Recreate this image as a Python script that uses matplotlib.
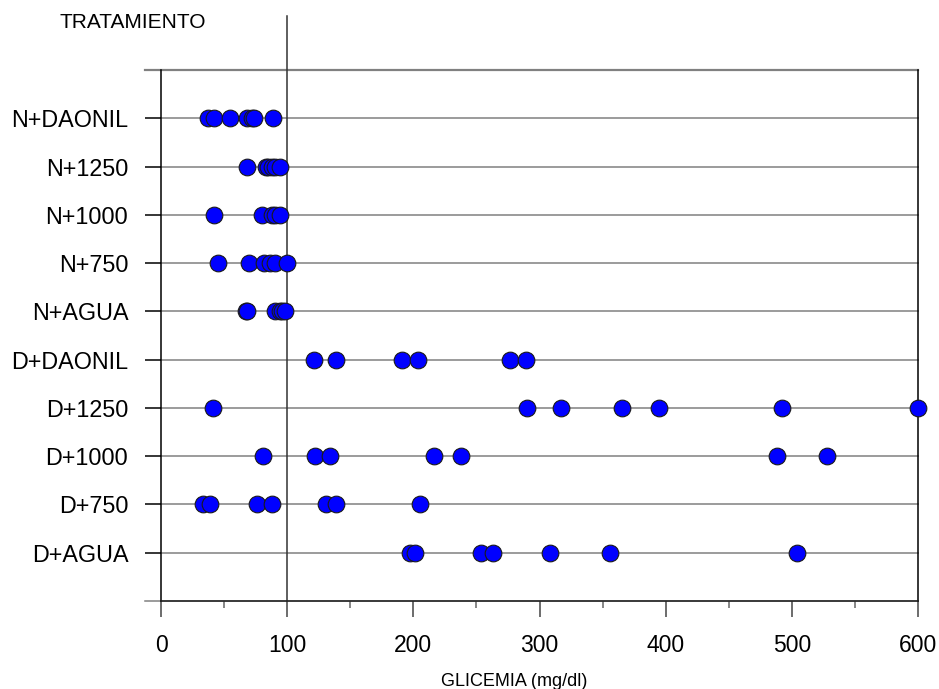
import matplotlib
matplotlib.use('Agg')
import matplotlib.pyplot as plt
from matplotlib.ticker import MultipleLocator

plt.rcParams['font.family'] = ['Liberation Sans', 'DejaVu Sans']

TREATMENTS = ['D+AGUA', 'D+750', 'D+1000', 'D+1250', 'D+DAONIL',
              'N+AGUA', 'N+750', 'N+1000', 'N+1250', 'N+DAONIL']

d_agua = [197, 201, 254, 263, 308, 356, 504]
d_750 = [33, 39, 76, 88, 131, 139, 205]
d_1000 = [81, 122, 134, 216, 238, 488, 528]
d_1250 = [41, 290, 317, 365, 395, 492, 600]
d_daonil = [121, 139, 191, 204, 277, 289]
n_agua = [67, 68, 90, 94, 96, 98]
n_750 = [45, 70, 82, 86, 90, 100]
n_1000 = [42, 80, 88, 90, 94]
n_1250 = [68, 83, 85, 88, 90, 94]
n_daonil = [37, 42, 55, 68, 72, 74, 89]

SERIES = [d_agua, d_750, d_1000, d_1250, d_daonil,
          n_agua, n_750, n_1000, n_1250, n_daonil]

fig = plt.figure(figsize=(9.39, 6.89), dpi=100)
ax = fig.add_axes([161 / 939, 1 - 601 / 689, 757 / 939, 531 / 689])

ax.set_xlim(0, 600)
ax.set_ylim(0, 11)

# horizontal grid, including the outer lines that poke out to the left
for k in range(12):
    ext = k in (0, 11)
    ax.axhline(k, xmin=-16 / 757 if ext else 0, xmax=1, color='#808080',
               lw=1.6 if k == 11 else 1.1, clip_on=False, zorder=1)

ax.axvline(100, ymin=0, ymax=(601 - 16) / 531, color='#333333', lw=1.1,
           clip_on=False, zorder=1)

for k, vals in enumerate(SERIES, start=1):
    ax.plot(vals, [k] * len(vals), 'o', ms=12, mfc='#0000FF', mec='#1a1a1a',
            mew=0.8, clip_on=False, zorder=3)

ax.spines['top'].set_visible(False)
ax.spines['bottom'].set_color('#222222')
ax.spines['left'].set_color('black')
ax.spines['right'].set_color('black')
for s in ax.spines.values():
    s.set_linewidth(1.1)

ax.set_yticks(range(1, 11))
ax.set_yticklabels(TREATMENTS)
ax.xaxis.set_major_locator(MultipleLocator(100))
ax.xaxis.set_minor_locator(MultipleLocator(50))
ax.tick_params(axis='y', length=11.5, width=1.1, pad=12, labelsize=16.8)
ax.tick_params(axis='x', which='major', length=11.5, width=1.1, pad=12,
               labelsize=16.5, color='#444444')
ax.tick_params(axis='x', which='minor', length=5, width=1.1, color='#666666')

fig.text(60 / 939, 1 - 22 / 689, 'TRATAMIENTO', fontsize=15, va='center',
         ha='left')
fig.text(514 / 939, 3 / 689, 'GLICEMIA (mg/dl)', fontsize=13, va='baseline',
         ha='center')

fig.savefig('out.png', dpi=100)
